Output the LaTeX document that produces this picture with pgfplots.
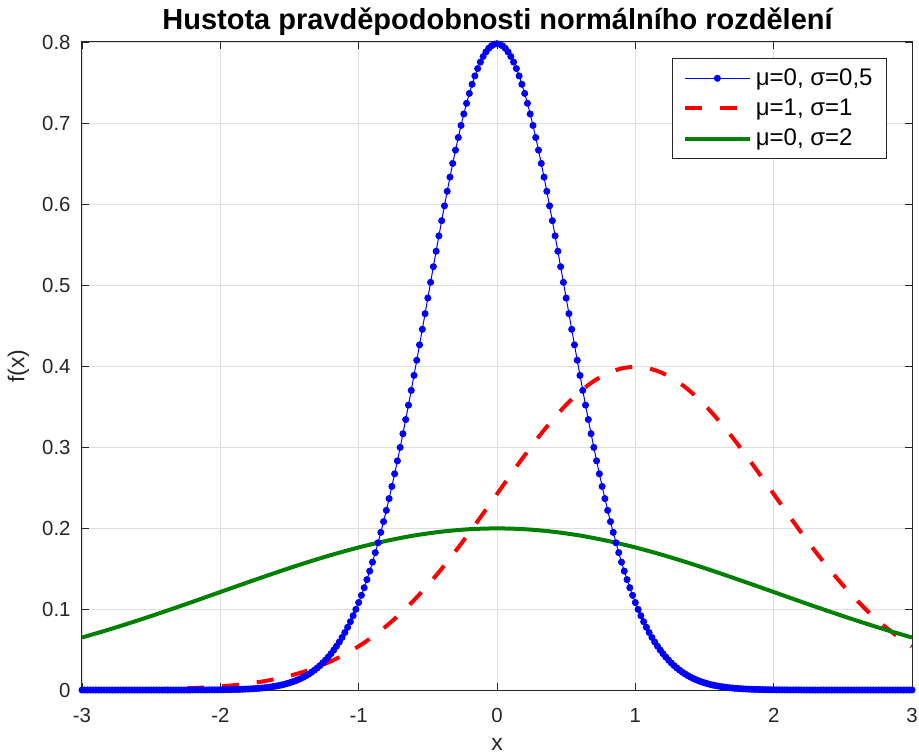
\documentclass[border=0pt]{standalone}
\usepackage{fontspec}
\setmainfont{Liberation Sans}
\usepackage{pgfplots}
\pgfplotsset{compat=1.18}
\definecolor{mgreen}{rgb}{0,0.5,0}
\definecolor{axgray}{rgb}{0.15,0.15,0.15}
\begin{document}
\begin{tikzpicture}
\begin{axis}[
  at={(0,0)}, anchor=south west,
  scale only axis, width=415pt, height=324pt,
  xmin=-3, xmax=3, ymin=0, ymax=0.8,
  xtick={-3,-2,-1,0,1,2,3},
  ytick={0,0.1,0.2,0.3,0.4,0.5,0.6,0.7,0.8},
  /pgf/number format/assume math mode=true,
  tick label style={font=\fontsize{10.2}{12}\selectfont, text=axgray},
  xticklabel style={yshift=-5.5pt},
  yticklabel style={xshift=-2.2pt},
  grid=major, major grid style={black!13, line width=0.4pt},
  tick align=inside, major tick length=3.6pt,
  tick style={axgray, line width=0.4pt},
  axis line style={axgray, line width=0.5pt},
  xlabel={x}, ylabel={f(x)},
  label style={font=\fontsize{11.5}{13}\selectfont, text=axgray},
  xlabel style={at={(axis description cs:0.5,-0.0935)}, anchor=base},
  ylabel style={at={(axis description cs:-0.0765,0.5)}, anchor=center},
  legend style={at={(axis description cs:1,1)}, anchor=north east, xshift=-12.5pt, yshift=-8pt,
    draw=axgray, fill=white, line width=0.4pt, font=\fontsize{12}{14}\selectfont,
    row sep=1.25pt, inner xsep=5pt, inner ysep=3pt, cells={anchor=west}},
  legend cell align=left,
  legend image code/.code={\draw[mark repeat=2,mark phase=2,#1] plot coordinates {(0pt,0pt) (16.25pt,0pt) (32.5pt,0pt)};},
]
\addplot[blue, line width=0.5pt, mark=*, mark size=1.5pt, mark options={fill=blue, draw=blue}] coordinates {
(-3.00,0) (-2.98,0) (-2.96,0) (-2.94,0) (-2.92,0) (-2.90,0) (-2.88,0) (-2.86,0) (-2.84,0) (-2.82,0)
(-2.80,0) (-2.78,0) (-2.76,0) (-2.74,0) (-2.72,0) (-2.70,0) (-2.68,0) (-2.66,0) (-2.64,0) (-2.62,0)
(-2.60,0) (-2.58,0) (-2.56,0) (-2.54,0) (-2.52,0) (-2.50,0) (-2.48,0) (-2.46,0) (-2.44,0) (-2.42,0)
(-2.40,0) (-2.38,0) (-2.36,0) (-2.34,0) (-2.32,0) (-2.30,0) (-2.28,0) (-2.26,0) (-2.24,0) (-2.22,0)
(-2.20,0.0001) (-2.18,0.0001) (-2.16,0.0001) (-2.14,0.0001) (-2.12,0.0001) (-2.10,0.0001)
(-2.08,0.0002) (-2.06,0.0002) (-2.04,0.0002) (-2.02,0.0002) (-2.00,0.0003) (-1.98,0.0003)
(-1.96,0.0004) (-1.94,0.0004) (-1.92,0.0005) (-1.90,0.0006) (-1.88,0.0007) (-1.86,0.0008)
(-1.84,0.0009) (-1.82,0.0011) (-1.80,0.0012) (-1.78,0.0014) (-1.76,0.0016) (-1.74,0.0019)
(-1.72,0.0021) (-1.70,0.0025) (-1.68,0.0028) (-1.66,0.0032) (-1.64,0.0037) (-1.62,0.0042)
(-1.60,0.0048) (-1.58,0.0054) (-1.56,0.0061) (-1.54,0.0069) (-1.52,0.0079) (-1.50,0.0089)
(-1.48,0.0100) (-1.46,0.0112) (-1.44,0.0126) (-1.42,0.0141) (-1.40,0.0158) (-1.38,0.0177)
(-1.36,0.0197) (-1.34,0.0220) (-1.32,0.0245) (-1.30,0.0272) (-1.28,0.0301) (-1.26,0.0334)
(-1.24,0.0369) (-1.22,0.0407) (-1.20,0.0448) (-1.18,0.0493) (-1.16,0.0541) (-1.14,0.0593)
(-1.12,0.0649) (-1.10,0.0709) (-1.08,0.0774) (-1.06,0.0843) (-1.04,0.0917) (-1.02,0.0996)
(-1.00,0.1080) (-0.98,0.1169) (-0.96,0.1263) (-0.94,0.1363) (-0.92,0.1468) (-0.90,0.1579)
(-0.88,0.1696) (-0.86,0.1818) (-0.84,0.1946) (-0.82,0.2079) (-0.80,0.2218) (-0.78,0.2363)
(-0.76,0.2513) (-0.74,0.2669) (-0.72,0.2829) (-0.70,0.2995) (-0.68,0.3164) (-0.66,0.3339)
(-0.64,0.3517) (-0.62,0.3699) (-0.60,0.3884) (-0.58,0.4071) (-0.56,0.4261) (-0.54,0.4453)
(-0.52,0.4646) (-0.50,0.4839) (-0.48,0.5033) (-0.46,0.5226) (-0.44,0.5417) (-0.42,0.5607)
(-0.40,0.5794) (-0.38,0.5977) (-0.36,0.6157) (-0.34,0.6332) (-0.32,0.6501) (-0.30,0.6665)
(-0.28,0.6821) (-0.26,0.6970) (-0.24,0.7111) (-0.22,0.7243) (-0.20,0.7365) (-0.18,0.7478)
(-0.16,0.7581) (-0.14,0.7672) (-0.12,0.7752) (-0.10,0.7821) (-0.08,0.7877) (-0.06,0.7922)
(-0.04,0.7953) (-0.02,0.7972) (0.00,0.7979)
(0.02,0.7972) (0.04,0.7953) (0.06,0.7922) (0.08,0.7877) (0.10,0.7821) (0.12,0.7752)
(0.14,0.7672) (0.16,0.7581) (0.18,0.7478) (0.20,0.7365) (0.22,0.7243) (0.24,0.7111)
(0.26,0.6970) (0.28,0.6821) (0.30,0.6665) (0.32,0.6501) (0.34,0.6332) (0.36,0.6157)
(0.38,0.5977) (0.40,0.5794) (0.42,0.5607) (0.44,0.5417) (0.46,0.5226) (0.48,0.5033)
(0.50,0.4839) (0.52,0.4646) (0.54,0.4453) (0.56,0.4261) (0.58,0.4071) (0.60,0.3884)
(0.62,0.3699) (0.64,0.3517) (0.66,0.3339) (0.68,0.3164) (0.70,0.2995) (0.72,0.2829)
(0.74,0.2669) (0.76,0.2513) (0.78,0.2363) (0.80,0.2218) (0.82,0.2079) (0.84,0.1946)
(0.86,0.1818) (0.88,0.1696) (0.90,0.1579) (0.92,0.1468) (0.94,0.1363) (0.96,0.1263)
(0.98,0.1169) (1.00,0.1080) (1.02,0.0996) (1.04,0.0917) (1.06,0.0843) (1.08,0.0774)
(1.10,0.0709) (1.12,0.0649) (1.14,0.0593) (1.16,0.0541) (1.18,0.0493) (1.20,0.0448)
(1.22,0.0407) (1.24,0.0369) (1.26,0.0334) (1.28,0.0301) (1.30,0.0272) (1.32,0.0245)
(1.34,0.0220) (1.36,0.0197) (1.38,0.0177) (1.40,0.0158) (1.42,0.0141) (1.44,0.0126)
(1.46,0.0112) (1.48,0.0100) (1.50,0.0089) (1.52,0.0079) (1.54,0.0069) (1.56,0.0061)
(1.58,0.0054) (1.60,0.0048) (1.62,0.0042) (1.64,0.0037) (1.66,0.0032) (1.68,0.0028)
(1.70,0.0025) (1.72,0.0021) (1.74,0.0019) (1.76,0.0016) (1.78,0.0014) (1.80,0.0012)
(1.82,0.0011) (1.84,0.0009) (1.86,0.0008) (1.88,0.0007) (1.90,0.0006) (1.92,0.0005)
(1.94,0.0004) (1.96,0.0004) (1.98,0.0003) (2.00,0.0003) (2.02,0.0002) (2.04,0.0002)
(2.06,0.0002) (2.08,0.0002) (2.10,0.0001) (2.12,0.0001) (2.14,0.0001) (2.16,0.0001)
(2.18,0.0001) (2.20,0.0001)
(2.22,0) (2.24,0) (2.26,0) (2.28,0) (2.30,0) (2.32,0) (2.34,0) (2.36,0) (2.38,0) (2.40,0)
(2.42,0) (2.44,0) (2.46,0) (2.48,0) (2.50,0) (2.52,0) (2.54,0) (2.56,0) (2.58,0) (2.60,0)
(2.62,0) (2.64,0) (2.66,0) (2.68,0) (2.70,0) (2.72,0) (2.74,0) (2.76,0) (2.78,0) (2.80,0)
(2.82,0) (2.84,0) (2.86,0) (2.88,0) (2.90,0) (2.92,0) (2.94,0) (2.96,0) (2.98,0) (3.00,0)
};
\addlegendentry{μ=0, σ=0,5}
\addplot[red, line width=2pt, dash pattern=on 8.5pt off 9pt, smooth] coordinates {
(-3.0,0.0001) (-2.9,0.0002) (-2.8,0.0003) (-2.7,0.0004) (-2.6,0.0006) (-2.5,0.0009)
(-2.4,0.0012) (-2.3,0.0017) (-2.2,0.0024) (-2.1,0.0033) (-2.0,0.0044) (-1.9,0.0060)
(-1.8,0.0079) (-1.7,0.0104) (-1.6,0.0136) (-1.5,0.0175) (-1.4,0.0224) (-1.3,0.0283)
(-1.2,0.0355) (-1.1,0.0440) (-1.0,0.0540) (-0.9,0.0656) (-0.8,0.0790) (-0.7,0.0940)
(-0.6,0.1109) (-0.5,0.1295) (-0.4,0.1497) (-0.3,0.1714) (-0.2,0.1942) (-0.1,0.2179)
(0.0,0.2420) (0.1,0.2661) (0.2,0.2897) (0.3,0.3123) (0.4,0.3332) (0.5,0.3521)
(0.6,0.3683) (0.7,0.3814) (0.8,0.3910) (0.9,0.3970) (1.0,0.3989) (1.1,0.3970)
(1.2,0.3910) (1.3,0.3814) (1.4,0.3683) (1.5,0.3521) (1.6,0.3332) (1.7,0.3123)
(1.8,0.2897) (1.9,0.2661) (2.0,0.2420) (2.1,0.2179) (2.2,0.1942) (2.3,0.1714)
(2.4,0.1497) (2.5,0.1295) (2.6,0.1109) (2.7,0.0940) (2.8,0.0790) (2.9,0.0656) (3.0,0.0540)
};
\addlegendentry{μ=1, σ=1}
\addplot[mgreen, line width=2pt, smooth] coordinates {
(-3.0,0.0648) (-2.8,0.0749) (-2.6,0.0857) (-2.4,0.0971) (-2.2,0.1089) (-2.0,0.1210)
(-1.8,0.1330) (-1.6,0.1448) (-1.4,0.1561) (-1.2,0.1666) (-1.0,0.1760) (-0.8,0.1841)
(-0.6,0.1907) (-0.4,0.1955) (-0.2,0.1985) (0.0,0.1995) (0.2,0.1985) (0.4,0.1955)
(0.6,0.1907) (0.8,0.1841) (1.0,0.1760) (1.2,0.1666) (1.4,0.1561) (1.6,0.1448)
(1.8,0.1330) (2.0,0.1210) (2.2,0.1089) (2.4,0.0971) (2.6,0.0857) (2.8,0.0749) (3.0,0.0648)
};
\addlegendentry{μ=0, σ=2}
\end{axis}
\node[anchor=base, font=\bfseries\fontsize{14.5}{17}\selectfont] at (207.75pt,330pt) {Hustota pravděpodobnosti normálního rozdělení};
\pgfresetboundingbox
\path (-41pt,-32.5pt) rectangle (418.5pt,345pt);
\end{tikzpicture}
\end{document}
